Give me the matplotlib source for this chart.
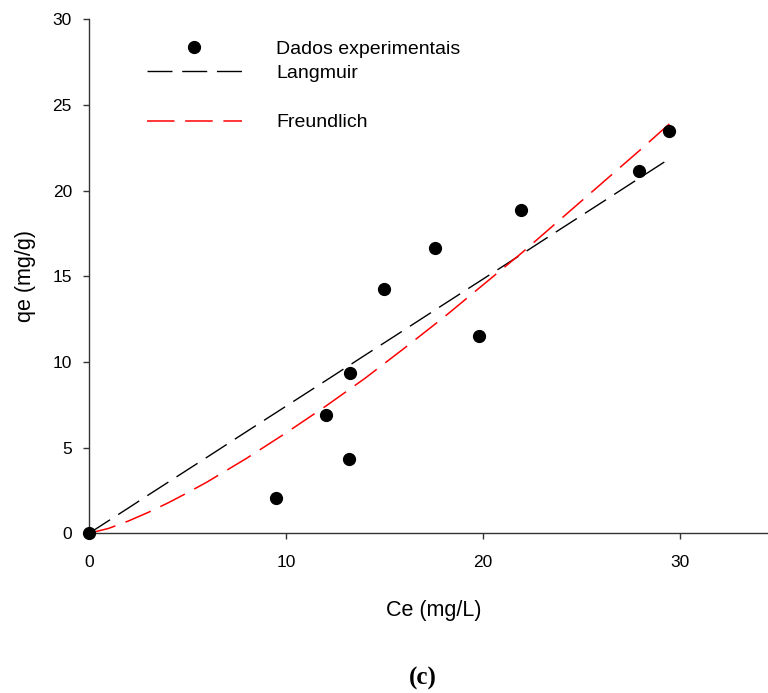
import matplotlib
matplotlib.use("Agg")
import matplotlib.pyplot as plt
from matplotlib.lines import Line2D

plt.rcParams['font.family'] = ['Liberation Sans', 'DejaVu Sans']

# experimental equilibrium points
ce_exp = [0.0, 9.49, 12.03, 13.18, 13.27, 14.99, 17.55, 19.81, 21.95, 27.93, 29.46]
qe_exp = [0.0, 2.06, 6.90, 4.36, 9.35, 14.25, 16.65, 11.50, 18.90, 21.12, 23.51]

# fitted isotherm curves, sampled along Ce
ce_fit = [0, 1, 2, 3, 4, 5, 6, 8, 10, 12, 14, 16, 18, 20, 22, 24, 26, 28, 29.5]
qe_langmuir = [0, 0.74, 1.48, 2.23, 2.97, 3.71, 4.45, 5.94, 7.42, 8.90, 10.39,
               11.87, 13.36, 14.84, 16.32, 17.81, 19.29, 20.78, 21.89]
qe_freundlich = [0, 0.29, 0.72, 1.22, 1.77, 2.37, 3.00, 4.38, 5.86, 7.41, 9.04,
                 10.80, 12.60, 14.50, 16.40, 18.40, 20.40, 22.40, 23.94]

fig = plt.figure(figsize=(7.68, 6.93), dpi=100)
ax = fig.add_axes([0.1159, 0.2304, 0.8978, 0.7417])

dash = (18, 7)
ax.plot(ce_fit, qe_langmuir, color="black", lw=1.0, dashes=dash, label="Langmuir")
ax.plot(ce_fit, qe_freundlich, color="red", lw=1.1, dashes=dash, label="Freundlich")
ax.plot(ce_exp, qe_exp, "o", color="black", markersize=8.5, clip_on=False,
        label="Dados experimentais", zorder=5)

ax.set_xlim(0, 35)
ax.set_ylim(0, 30)
ax.set_xticks([0, 10, 20, 30])
ax.set_yticks([0, 5, 10, 15, 20, 25, 30])

for side in ["top", "right"]:
    ax.spines[side].set_visible(False)
for side in ["left", "bottom"]:
    ax.spines[side].set_linewidth(1.0)
    ax.spines[side].set_color("#333333")

ax.tick_params(axis="both", direction="out", length=4.3, width=1.0,
               color="#333333", labelsize=12.5)
ax.tick_params(axis="x", pad=11)
ax.tick_params(axis="y", pad=8)

ax.set_xlabel("Ce (mg/L)", fontsize=15.5, labelpad=22)
ax.set_ylabel("qe (mg/g)", fontsize=15.5, labelpad=12)

# legend with a blank row between Langmuir and Freundlich
h = ax.get_legend_handles_labels()[0]
blank = Line2D([], [], linestyle="none")
ax.legend([h[2], h[0], blank, h[1]],
          ["Dados experimentais", "Langmuir", " ", "Freundlich"],
          loc="upper left", bbox_to_anchor=(0.0725, 0.975), frameon=False,
          fontsize=14, handlelength=4.9, handletextpad=1.75,
          labelspacing=0.36, borderaxespad=0)

fig.text(423 / 768, 1 - 678 / 693, "(c)", ha="center", va="center",
         fontsize=18, fontweight="bold", family="Liberation Serif")

fig.savefig("out.png", dpi=100)
